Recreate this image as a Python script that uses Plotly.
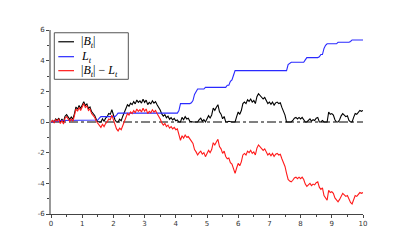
import plotly.graph_objects as go

# time grid (t in [0, 10])
t = [0.00, 0.05, 0.10, 0.15, 0.20, 0.25, 0.30, 0.35, 0.40, 0.45,
     0.50, 0.55, 0.60, 0.65, 0.70, 0.75, 0.80, 0.85, 0.90, 0.95,
     1.00, 1.05, 1.10, 1.15, 1.20, 1.25, 1.30, 1.35, 1.40, 1.45,
     1.50, 1.55, 1.60, 1.65, 1.70, 1.75, 1.80, 1.85, 1.90, 1.95,
     2.00, 2.05, 2.10, 2.15, 2.20, 2.25, 2.30, 2.35, 2.40, 2.45,
     2.50, 2.55, 2.60, 2.65, 2.70, 2.75, 2.80, 2.85, 2.90, 2.95,
     3.00, 3.05, 3.10, 3.15, 3.20, 3.25, 3.30, 3.35, 3.40, 3.45,
     3.50, 3.55, 3.60, 3.65, 3.70, 3.75, 3.80, 3.85, 3.90, 3.95,
     4.00, 4.05, 4.10, 4.15, 4.20, 4.25, 4.30, 4.35, 4.40, 4.45,
     4.50, 4.55, 4.60, 4.65, 4.70, 4.75, 4.80, 4.85, 4.90, 4.95,
     5.00, 5.05, 5.10, 5.15, 5.20, 5.25, 5.30, 5.35, 5.40, 5.45,
     5.50, 5.55, 5.60, 5.65, 5.70, 5.75, 5.80, 5.85, 5.90, 5.95,
     6.00, 6.05, 6.10, 6.15, 6.20, 6.25, 6.30, 6.35, 6.40, 6.45,
     6.50, 6.55, 6.60, 6.65, 6.70, 6.75, 6.80, 6.85, 6.90, 6.95,
     7.00, 7.05, 7.10, 7.15, 7.20, 7.25, 7.30, 7.35, 7.40, 7.45,
     7.50, 7.55, 7.60, 7.65, 7.70, 7.75, 7.80, 7.85, 7.90, 7.95,
     8.00, 8.05, 8.10, 8.15, 8.20, 8.25, 8.30, 8.35, 8.40, 8.45,
     8.50, 8.55, 8.60, 8.65, 8.70, 8.75, 8.80, 8.85, 8.90, 8.95,
     9.00, 9.05, 9.10, 9.15, 9.20, 9.25, 9.30, 9.35, 9.40, 9.45,
     9.50, 9.55, 9.60, 9.65, 9.70, 9.75, 9.80, 9.85, 9.90, 9.95,
     10.00]

# |B_t|
abs_B = [0.00, 0.10, 0.00, 0.20, 0.10, 0.25, 0.00, 0.20, 0.00, 0.38,
         0.48, 0.28, 0.18, 0.33, 0.18, 0.53, 0.98, 0.83, 1.08, 0.88,
         1.13, 1.33, 1.08, 1.18, 0.88, 0.98, 0.68, 0.53, 0.43, 0.18,
         0.03, 0.00, 0.00, 0.20, 0.05, 0.25, 0.35, 0.55, 0.50, 0.80,
         0.45, 0.15, 0.00, 0.00, 0.18, 0.08, 0.38, 0.63, 0.93, 1.13,
         1.03, 1.23, 1.13, 1.33, 1.18, 1.43, 1.28, 1.38, 1.23, 1.48,
         1.28, 1.43, 1.13, 1.28, 1.18, 1.38, 1.23, 1.33, 1.13, 0.98,
         0.78, 0.53, 0.38, 0.48, 0.28, 0.38, 0.18, 0.28, 0.13, 0.23,
         0.08, 0.13, 0.00, 0.00, 0.30, 0.15, 0.35, 0.20, 0.25, 0.05,
         0.00, 0.00, 0.00, 0.00, 0.00, 0.15, 0.25, 0.05, 0.15, 0.00,
         0.16, 0.41, 0.26, 0.46, 0.91, 0.76, 0.96, 1.13, 0.66, 0.51,
         0.21, 0.36, 0.01, 0.00, 0.05, 0.00, 0.00, 0.00, 0.00, 0.35,
         0.65, 0.50, 0.75, 1.20, 1.30, 1.20, 1.45, 1.35, 1.50, 1.30,
         1.40, 1.20, 1.65, 1.85, 1.75, 1.60, 1.50, 1.60, 1.35, 1.20,
         1.30, 1.15, 1.30, 1.10, 1.25, 1.30, 1.20, 1.25, 0.95, 0.75,
         0.45, 0.00, 0.00, 0.00, 0.00, 0.10, 0.25, 0.30, 0.20, 0.30,
         0.20, 0.30, 0.15, 0.00, 0.00, 0.10, 0.20, 0.05, 0.15, 0.10,
         0.25, 0.30, 0.00, 0.00, 0.10, 0.00, 0.00, 0.00, 0.65, 0.50,
         0.55, 0.45, 0.15, 0.00, 0.00, 0.15, 0.40, 0.55, 0.45, 0.35,
         0.40, 0.10, 0.00, 0.00, 0.30, 0.55, 0.50, 0.60, 0.75, 0.70,
         0.75]

# L_t (local time)
L = [0.00, 0.00, 0.05, 0.05, 0.05, 0.05, 0.10, 0.10, 0.13, 0.13,
     0.13, 0.13, 0.13, 0.13, 0.13, 0.13, 0.13, 0.13, 0.13, 0.13,
     0.13, 0.13, 0.13, 0.13, 0.13, 0.13, 0.13, 0.13, 0.13, 0.13,
     0.13, 0.25, 0.35, 0.35, 0.35, 0.35, 0.35, 0.35, 0.35, 0.35,
     0.35, 0.35, 0.45, 0.58, 0.58, 0.58, 0.58, 0.58, 0.58, 0.58,
     0.58, 0.58, 0.58, 0.58, 0.58, 0.58, 0.58, 0.58, 0.58, 0.58,
     0.58, 0.58, 0.58, 0.58, 0.58, 0.58, 0.58, 0.58, 0.58, 0.58,
     0.58, 0.58, 0.58, 0.58, 0.58, 0.58, 0.58, 0.58, 0.58, 0.58,
     0.58, 0.58, 0.75, 1.20, 1.20, 1.20, 1.20, 1.20, 1.20, 1.20,
     1.25, 1.40, 1.80, 1.95, 2.15, 2.15, 2.15, 2.15, 2.15, 2.26,
     2.26, 2.26, 2.26, 2.26, 2.26, 2.26, 2.26, 2.26, 2.26, 2.26,
     2.26, 2.26, 2.26, 2.40, 2.40, 2.65, 2.75, 3.05, 3.35, 3.35,
     3.35, 3.35, 3.35, 3.35, 3.35, 3.35, 3.35, 3.35, 3.35, 3.35,
     3.35, 3.35, 3.35, 3.35, 3.35, 3.35, 3.35, 3.35, 3.35, 3.35,
     3.35, 3.35, 3.35, 3.35, 3.35, 3.35, 3.35, 3.35, 3.35, 3.35,
     3.35, 3.35, 3.75, 3.85, 3.90, 3.90, 3.90, 3.90, 3.90, 3.90,
     3.90, 3.90, 3.90, 4.05, 4.20, 4.20, 4.20, 4.20, 4.20, 4.20,
     4.20, 4.20, 4.25, 4.40, 4.40, 4.80, 5.00, 5.10, 5.10, 5.10,
     5.10, 5.10, 5.10, 5.10, 5.20, 5.20, 5.20, 5.20, 5.20, 5.20,
     5.20, 5.20, 5.25, 5.35, 5.35, 5.35, 5.35, 5.35, 5.35, 5.35,
     5.35]

# |B_t| - L_t
diff = [0.00, 0.10, -0.05, 0.15, 0.05, 0.20, -0.10, 0.10, -0.13, 0.25,
        0.35, 0.15, 0.05, 0.20, 0.05, 0.40, 0.85, 0.70, 0.95, 0.75,
        1.00, 1.20, 0.95, 1.05, 0.75, 0.85, 0.55, 0.40, 0.30, 0.05,
        -0.10, -0.25, -0.35, -0.15, -0.30, -0.10, 0.00, 0.20, 0.15, 0.45,
        0.10, -0.20, -0.45, -0.58, -0.40, -0.50, -0.20, 0.05, 0.35, 0.55,
        0.45, 0.65, 0.55, 0.75, 0.60, 0.85, 0.70, 0.80, 0.65, 0.90,
        0.70, 0.85, 0.55, 0.70, 0.60, 0.80, 0.65, 0.75, 0.55, 0.40,
        0.20, -0.05, -0.20, -0.10, -0.30, -0.20, -0.40, -0.30, -0.45, -0.35,
        -0.50, -0.45, -0.75, -1.20, -0.90, -1.05, -0.85, -1.00, -0.95, -1.15,
        -1.25, -1.40, -1.80, -1.95, -2.15, -2.00, -1.90, -2.10, -2.00, -2.26,
        -2.10, -1.85, -2.00, -1.80, -1.35, -1.50, -1.30, -1.13, -1.60, -1.75,
        -2.05, -1.90, -2.25, -2.40, -2.35, -2.65, -2.75, -3.05, -3.35, -3.00,
        -2.70, -2.85, -2.60, -2.15, -2.05, -2.15, -1.90, -2.00, -1.85, -2.05,
        -1.95, -2.15, -1.70, -1.50, -1.60, -1.75, -1.85, -1.75, -2.00, -2.15,
        -2.05, -2.20, -2.05, -2.25, -2.10, -2.05, -2.15, -2.10, -2.40, -2.60,
        -2.90, -3.35, -3.75, -3.85, -3.90, -3.80, -3.65, -3.60, -3.70, -3.60,
        -3.70, -3.60, -3.75, -4.05, -4.20, -4.10, -4.00, -4.15, -4.05, -4.10,
        -3.95, -3.90, -4.25, -4.40, -4.30, -4.80, -5.00, -5.10, -4.45, -4.60,
        -4.55, -4.65, -4.95, -5.10, -5.20, -5.05, -4.80, -4.65, -4.75, -4.85,
        -4.80, -5.10, -5.25, -5.35, -5.05, -4.80, -4.85, -4.75, -4.60, -4.65,
        -4.60]

x_ticks = [0, 1, 2, 3, 4, 5, 6, 7, 8, 9, 10]
x_ticktext = ["0", "1", "2", "3", "4", "5", "6", "7", "8", "9", "10"]
x_minor = [0.5, 1.5, 2.5, 3.5, 4.5, 5.5, 6.5, 7.5, 8.5, 9.5]
y_ticks = [-6, -4, -2, 0, 2, 4, 6]
y_ticktext = ["-6", "-4", "-2", "0", "2", "4", "6"]
y_minor = [-5, -3, -1, 1, 3, 5]

legend_names = ["|<i>B</i><sub><i>t</i></sub>|",
                "<i>L</i><sub><i>t</i></sub>",
                "|<i>B</i><sub><i>t</i></sub>| \u2212 <i>L</i><sub><i>t</i></sub>"]
colors = ["#000000", "#2a2aff", "#ff1a1a"]

fig = go.Figure()
# zero reference line
fig.add_trace(go.Scatter(x=[x_ticks[0], x_ticks[-1]], y=[0, 0], mode="lines",
                         line=dict(color="#000000", width=1, dash="dashdot"),
                         showlegend=False, hoverinfo="skip"))
for ys, c in zip([abs_B, L, diff], colors):
    fig.add_trace(go.Scatter(x=t, y=ys, mode="lines",
                             line=dict(color=c, width=1.1),
                             showlegend=False))

# custom legend (box, line samples, labels)
shapes = [dict(type="rect", xref="paper", yref="paper",
               x0=0.0106, x1=0.2478, y0=0.732, y1=0.985,
               line=dict(color="#555555", width=1), fillcolor="white", layer="above")]
annotations = []
for i, (name, c) in enumerate(zip(legend_names, colors)):
    yy = [0.936, 0.855, 0.779][i]
    shapes.append(dict(type="line", xref="paper", yref="paper",
                       x0=0.0234, x1=0.0737, y0=yy, y1=yy,
                       line=dict(color=c, width=1.2), layer="above"))
    annotations.append(dict(xref="paper", yref="paper", x=0.0897, y=yy,
                            xanchor="left", yanchor="middle", showarrow=False,
                            text=name, font=dict(family="Liberation Serif", size=12, color="#000")))

# page body has an 8px default margin, so margins are reduced by 8px
fig.update_layout(
    width=407, height=237,
    margin=dict(l=43, r=52, t=22, b=31),
    paper_bgcolor="white", plot_bgcolor="white",
    showlegend=False,
    shapes=shapes, annotations=annotations,
    font=dict(family="DejaVu Sans", size=7, color="#333333"),
)
fig.update_xaxes(range=[0, 10], tickmode="array", tickvals=x_ticks, ticktext=x_ticktext,
                 showgrid=False, zeroline=False, showline=True, linecolor="#444444", linewidth=1,
                 ticks="outside", ticklen=3, tickcolor="#444444", tickwidth=1,
                 minor=dict(tickmode="array", tickvals=x_minor, ticks="outside", ticklen=2,
                            tickcolor="#444444", showgrid=False),
                 tickfont=dict(size=7, color="#333333"))
fig.update_yaxes(range=[-6, 6], tickmode="array", tickvals=y_ticks, ticktext=y_ticktext,
                 showgrid=False, zeroline=False, showline=True, linecolor="#999999", linewidth=1.6,
                 ticks="outside", ticklen=3, tickcolor="#444444", tickwidth=1,
                 minor=dict(tickmode="array", tickvals=y_minor, ticks="outside", ticklen=2,
                            tickcolor="#444444", showgrid=False),
                 tickfont=dict(size=7, color="#333333"))

fig.write_html("out.html")
